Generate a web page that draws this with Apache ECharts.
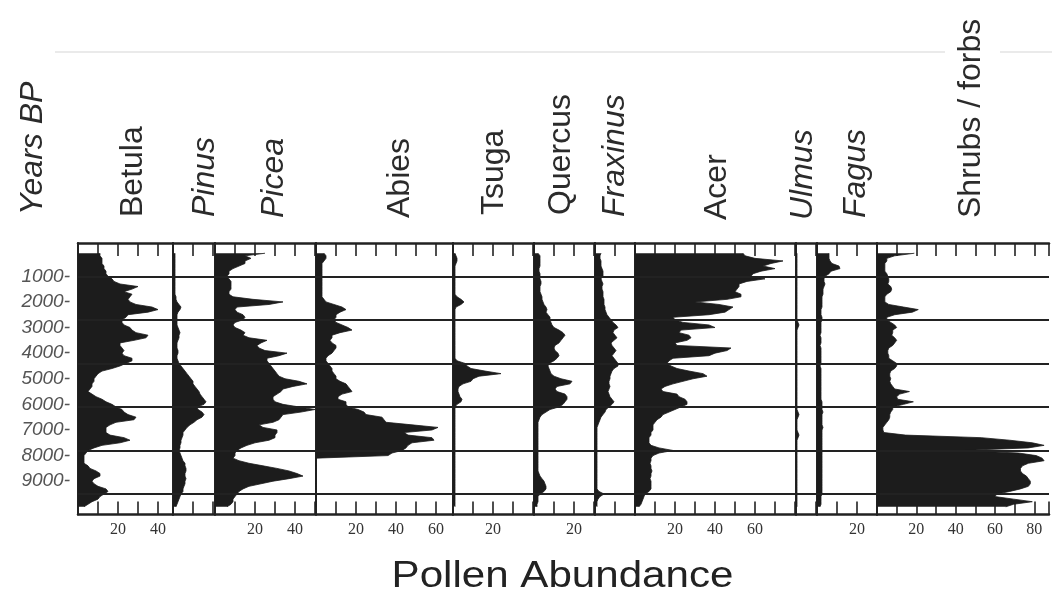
<!DOCTYPE html>
<html>
<head>
<meta charset="utf-8">
<script src="https://cdn.jsdelivr.net/npm/echarts@6/dist/echarts.min.js"></script>
<style>
html,body{margin:0;padding:0;background:#fff;}
#chart{width:1052px;height:601px;}
</style>
</head>
<body>
<div id="chart"></div>
<script>
// ---------------- DATA ----------------
const SAMPLE_AGES = [
  100,200,300,400,500,600,700,800,900,1000,
  1100,1200,1300,1400,1500,1600,1700,1800,1900,2000,
  2100,2200,2300,2400,2500,2600,2700,2800,2900,3000,
  3100,3200,3300,3400,3500,3600,3700,3800,3900,4000,
  4100,4200,4300,4400,4500,4600,4700,4800,4900,5000,
  5100,5200,5300,5400,5500,5600,5700,5800,5900,6000,
  6100,6200,6300,6400,6500,6600,6700,6800,6900,7000,
  7100,7200,7300,7400,7500,7600,7700,7800,7900,8000,
  8100,8200,8300,8400,8500,8600,8700,8800,8900,9000,
  9100,9200,9300,9400,9500,9600,9700,9800,9900,10000
];

const TAXA = ['Betula','Pinus','Picea','Abies','Tsuga','Quercus','Fraxinus','Acer','Ulmus','Fagus','Shrubs / forbs'];

const BETULA = [
  11,11,12,12,12,13,13,14,14,15,
  17,18,21,30,27,23,27,26,25,26,
  29,37,40,35,25,24,22,22,23,26,
  27,29,35,34,28,21,21,22,23,22,
  23,27,27,24,21,17,12,10,9,8,
  8,7,7,6,5,7,9,12,14,17,
  19,22,23,25,29,28,19,16,14,14,
  14,16,23,26,21,12,8,5,4,3,
  3,3,3,5,6,9,11,11,8,7,
  8,10,14,15,13,11,10,7,5,3
];
const PINUS = [
  1,1,1,1,1,1,1,1,1,1,
  1,1,1,1,1,1,1,1.5,1.5,2,
  3,4,3.5,2.5,2,2,2,2,2,2.5,
  3,3.5,3,3,2.5,2,2,2,2.5,2.5,
  2,2,2.5,3,4,5,6,7,8,9,
  10,10,11,12,13,13.5,14.5,15.5,16.5,15.5,
  12,12.5,14.5,15.5,14.5,12,10.5,8.5,7,6,
  5,5,4.5,4,4,3.5,3.5,3,3.5,4,
  4.5,5,6,6,6.5,6.5,6,6,6.5,6,
  6,5.5,5,5,4,3.5,3,2.5,2,1.5
];
const PICEA = [
  25,15,18,15,15,12,9,7,7,6,
  7,8,8,8,8,7,7,9,19,34,
  27,11,10,11,14,15,14,10,9,10,
  13,15,14,17,26,23,21,22,25,36,
  32,26,26,27,28,29,30,31,32,35,
  42,46,39,34,33,31,29,29,30,34,
  42,50,43,34,33,32,29,22,24,31,
  31,30,30,27,20,16,13,11,10,10,
  9,12,17,24,31,37,41,44,37,29,
  23,17,14,12,11,10,9,9,8,6
];
const ABIES = [
  4,5,5,4,3,3,3,3,3,3,
  3,3,3,3,3,3,3,3,4,5,
  9,13,15,12,10,10,9,10,13,16,
  18,12,8,8,7,8,10,10,9,8,
  6,5,5,6,7,8,8,9,10,10,
  12,15,16,17,18,13,11,11,15,15,
  16,21,24,25,33,34,35,48,61,58,
  44,46,58,59,48,46,45,43,38,36,
  0,0,0,0,0,0,0,0,0,0,
  0,0,0,0,0,0,0,0,0,0
];
const TSUGA = [
  1,1.5,2,2,1.5,1,1,1,1,1,
  1,1,1,1,1,1,1,2,4,5.5,
  4,1.5,1,1,1,1,1,1,1,1,
  1,1,1,1,1,1,1,1,1,1,
  1,1,2,6,7,9,16,24,13,10,
  9,5,3,2.5,2.5,3,3.5,4.5,4,2,
  1,1,1,1,1,1,1,1,1,1,
  1,1,1,1,1,1,1,1,1,1,
  1,1,1,1,1,1,1,1,1,1,
  1,1,1,1,1,1,1,1,1,1
];
const QUERCUS = [
  2,3,3,3,3,3,2.5,2.5,3,3,
  3,3.5,3.5,3,3,3,3.5,4,4,4.5,
  5,6,6.5,6,7,8,8,8.5,9,10,
  12.5,14.5,15.5,14.5,13.5,12.5,10.5,10,10.5,12,
  12.5,11.5,10,7.5,7,7.5,8,8.5,10,13.5,
  19,18,11.5,10.5,11.5,15.5,16.5,16.5,15.5,14.5,
  12.5,8,6,4,3,2.5,2,2,2,2,
  2,2,2,2,2,2,2,2,2,2,
  2,2,2,2,2,2,2.5,3,4,5,
  5.5,6,6,5,3,2,2,2,1.5,1.5
];
const FRAXINUS = [
  3,2.5,2.5,3,3,3,3.5,4,4,4,
  3,3.5,4,3.5,3.5,4,4,4,4.5,4.5,
  4.5,5,5,5.5,6,7,8,9,10.5,11.5,
  9.5,9,10,11,9.5,8,8.5,9.5,10.5,9.5,
  8.5,9.5,10.5,11.5,11.5,9.5,8.5,8,7.5,7.5,
  7,7,7.5,7,6.5,7,7.5,8.5,9.5,8.5,
  7,5.5,5,4,3,2.5,2,1.5,1,1,
  1,1,1,1,1,1,1,1,1,1,
  1,1,1,1,1,1,1,1,1,1,
  1,1,1,2,4.5,2.5,1.5,1,1,1
];
const ACER = [
  54,55,60,74,68,64,70,63,59,58,
  65,56,52,52,51,50,53,53,46,30,
  42,49,47,45,37,19,20,24,37,40,
  23,22,27,28,26,20,21,48,46,40,
  37,19,17,16,18,21,27,34,36,29,
  24,19,15,13,14,21,22,25,26,26,
  23,20,17,14,13,11,10,9,9,9,
  8,8,7,7,7,8,12,19,12,9,
  8,8,7.5,8,8,8.5,8,8,7.5,8,
  8,8,8,7,5,4.5,4,3.5,3,2
];
const ULMUS = [
  0.5,0.5,0.5,0.5,0.5,0.5,0.5,0.5,0.5,0.5,
  0.5,0.5,0.5,0.5,0.5,0.5,0.5,0.5,0.5,0.5,
  0.5,0.5,0.5,0.5,0.5,0.5,0.5,1,1.5,1,
  0.5,0.5,0.5,0.5,0.5,0.5,0.5,0.5,0.5,0.5,
  0.5,0.5,0.5,0.5,0.5,0.5,0.5,0.5,0.5,0.5,
  0.5,0.5,0.5,0.5,0.5,0.5,0.5,0.5,0.5,0.5,
  0.5,0.5,1,1.5,1,0.5,0.5,0.5,0.5,0.5,
  1,1.5,1,0.5,0.5,0.5,0.5,0.5,0.5,0.5,
  0.5,0.5,0.5,0.5,0.5,0.5,0.5,0.5,0.5,0.5,
  0.5,0.5,0.5,0.5,0.5,0.5,0.5,0.5,0.5,0.5
];
const FAGUS = [
  6,6,6,6.5,7.5,11,11.5,7,6,4,
  3.5,3.5,4,3.5,3,3,3,2.5,2.5,2.5,
  2.5,2.5,2,2,2,2.5,2.5,2,2,2,
  2,2,1.5,2,2,2,1.5,2,2,2,
  2,2,2,2,1.5,2,2,2,2,2,
  2,2,2,2,2,2,2,2,2.5,2.5,
  2.5,2.5,3,2.5,2.5,2.5,2.5,2.5,3,2.5,
  2.5,2.5,2.5,2.5,2.5,2.5,2.5,2.5,2.5,2.5,
  2.5,2.5,2.5,2.5,2.5,2.5,2.5,2.5,2.5,2.5,
  2.5,2.5,2.5,2.5,2.5,2,2,2,2,1.5
];
const SHRUBS = [
  19,9,5,5,4,4,4,4,5,5.5,
  6,6,5.5,7,7.5,7,5,4,4,4,
  6,13.5,21,18,9,5,5,7,9,10,
  8,8,7.5,9,10,9,8,6,5.5,5.5,
  6,6,8,10,10,9,7,6.5,6.5,7,
  6.5,7,8,9,16.5,11.5,10,10.5,18.5,13.5,
  8,8,7,6.5,6.5,6,5,4,3,3,
  3.5,14.5,53,67.5,79,85,77,43,72,81,
  84,85,77,74,73,73,74,76,77,78,
  78,77,73,67.5,61,60,69.5,79,69.5,65.5
];
const SERIES_VALUES = [BETULA,PINUS,PICEA,ABIES,TSUGA,QUERCUS,FRAXINUS,ACER,ULMUS,FAGUS,SHRUBS];

const ZONE_AGES = [1000,2700,4400,6100,7800,9500];
const AGE_TICKS = [1000,2000,3000,4000,5000,6000,7000,8000,9000];
const SCALE_LABELS = [20,40,60,80];
const AGE_AXIS_FIRST = -300, AGE_AXIS_LAST = 10300, AGE_AXIS_STEP = 100;

// ---------------- LAYOUT / STYLE ----------------
const PANEL_EDGES = [78,173,215,316,453,534,595,635,796,817,877,1052];
const PX_PER_PCT = 2;
const PLOT_TOP = 243, PLOT_HEIGHT = 271.5;
const INK = '#222222';
const FILL = '#1c1c1c';
const HEADER_POS = [
  {x:33,  y:215, italic:true},   // Years BP
  {x:133, y:217, italic:false},  // Betula
  {x:205, y:217, italic:true},   // Pinus
  {x:274, y:218, italic:true},   // Picea
  {x:400, y:218, italic:false},  // Abies
  {x:494, y:215, italic:false},  // Tsuga
  {x:561, y:215, italic:false},  // Quercus
  {x:615, y:217, italic:true},   // Fraxinus
  {x:717, y:220, italic:false},  // Acer
  {x:803, y:220, italic:true},   // Ulmus
  {x:856, y:218, italic:true},   // Fagus
  {x:971, y:218, italic:false}   // Shrubs / forbs
];

// ---------------- BUILD ----------------
const ageCategories = [];
for (let a = AGE_AXIS_FIRST; a <= AGE_AXIS_LAST; a += AGE_AXIS_STEP) ageCategories.push(String(a));

const grids = [], xAxes = [], yAxes = [], series = [];
TAXA.forEach((name, i) => {
  const left = PANEL_EDGES[i];
  const width = PANEL_EDGES[i + 1] - left;
  const max = width / PX_PER_PCT;
  grids.push({left: left, top: PLOT_TOP, width: width, height: PLOT_HEIGHT});
  const common = {
    type: 'value', gridIndex: i, min: 0, max: max, interval: 10,
    splitLine: {show: false},
    axisLine: {show: true, onZero: false, lineStyle: {color: INK, width: 2.5}},
    axisTick: {show: true, inside: true, length: 13, lineStyle: {color: INK, width: 1.6}}
  };
  xAxes.push(Object.assign({}, common, {
    position: 'bottom',
    axisLabel: {
      show: true, margin: 7, fontFamily: 'Liberation Serif', fontSize: 16, color: '#333',
      formatter: v => (SCALE_LABELS.indexOf(v) >= 0 && max - v >= 4) ? String(v) : ''
    }
  }));
  xAxes.push(Object.assign({}, common, {position: 'top', axisLabel: {show: false}}));
  yAxes.push({
    type: 'category', gridIndex: i, data: ageCategories, inverse: true, boundaryGap: false,
    axisLine: {show: true, onZero: false, lineStyle: {color: INK, width: 2}},
    axisTick: {show: false}, splitLine: {show: false},
    axisLabel: i === 0 ? {
      show: true, margin: 8,
      interval: (idx, val) => AGE_TICKS.indexOf(+val) >= 0,
      formatter: v => v + '-',
      fontFamily: 'Liberation Sans', fontStyle: 'italic', fontSize: 19, color: '#555'
    } : {show: false}
  });
  series.push({
    type: 'line', name: name, xAxisIndex: 2 * i, yAxisIndex: i,
    data: SERIES_VALUES[i].map((v, j) => [v, String(SAMPLE_AGES[j])]),
    symbol: 'none', showSymbol: false,
    lineStyle: {color: FILL, width: 0.8},
    areaStyle: {color: FILL, opacity: 1},
    markLine: {
      silent: true, symbol: ['none', 'none'], label: {show: false}, animation: false,
      lineStyle: {color: INK, width: 2, type: 'solid'},
      data: ZONE_AGES.map(a => ({yAxis: String(a)}))
    }
  });
});

const headerTexts = ['Years BP'].concat(TAXA);
const graphics = headerTexts.map((t, i) => ({
  type: 'text', x: HEADER_POS[i].x, y: HEADER_POS[i].y, rotation: Math.PI / 2,
  style: {
    x: 0, y: 0, text: t, fontSize: 32, fontFamily: 'Liberation Sans',
    fontStyle: HEADER_POS[i].italic ? 'italic' : 'normal',
    fill: '#2b2b2b', align: 'left', verticalAlign: 'middle'
  }
}));
graphics.push({
  type: 'text', x: 562.5, y: 577.5, scaleX: 1.17,
  style: {x: 0, y: 0, text: 'Pollen Abundance', fontSize: 36, fontFamily: 'Liberation Sans',
          fill: '#222', align: 'center', verticalAlign: 'middle'}
});
graphics.push({type: 'line', shape: {x1: 55, y1: 52, x2: 945, y2: 52}, style: {stroke: '#e3e3e3', lineWidth: 1.5}});
graphics.push({type: 'line', shape: {x1: 1000, y1: 52, x2: 1052, y2: 52}, style: {stroke: '#e3e3e3', lineWidth: 1.5}});

const chart = echarts.init(document.getElementById('chart'), null, {renderer: 'canvas'});
chart.setOption({
  backgroundColor: '#ffffff',
  animation: false,
  grid: grids,
  xAxis: xAxes,
  yAxis: yAxes,
  series: series,
  graphic: graphics
});
</script>
</body>
</html>
